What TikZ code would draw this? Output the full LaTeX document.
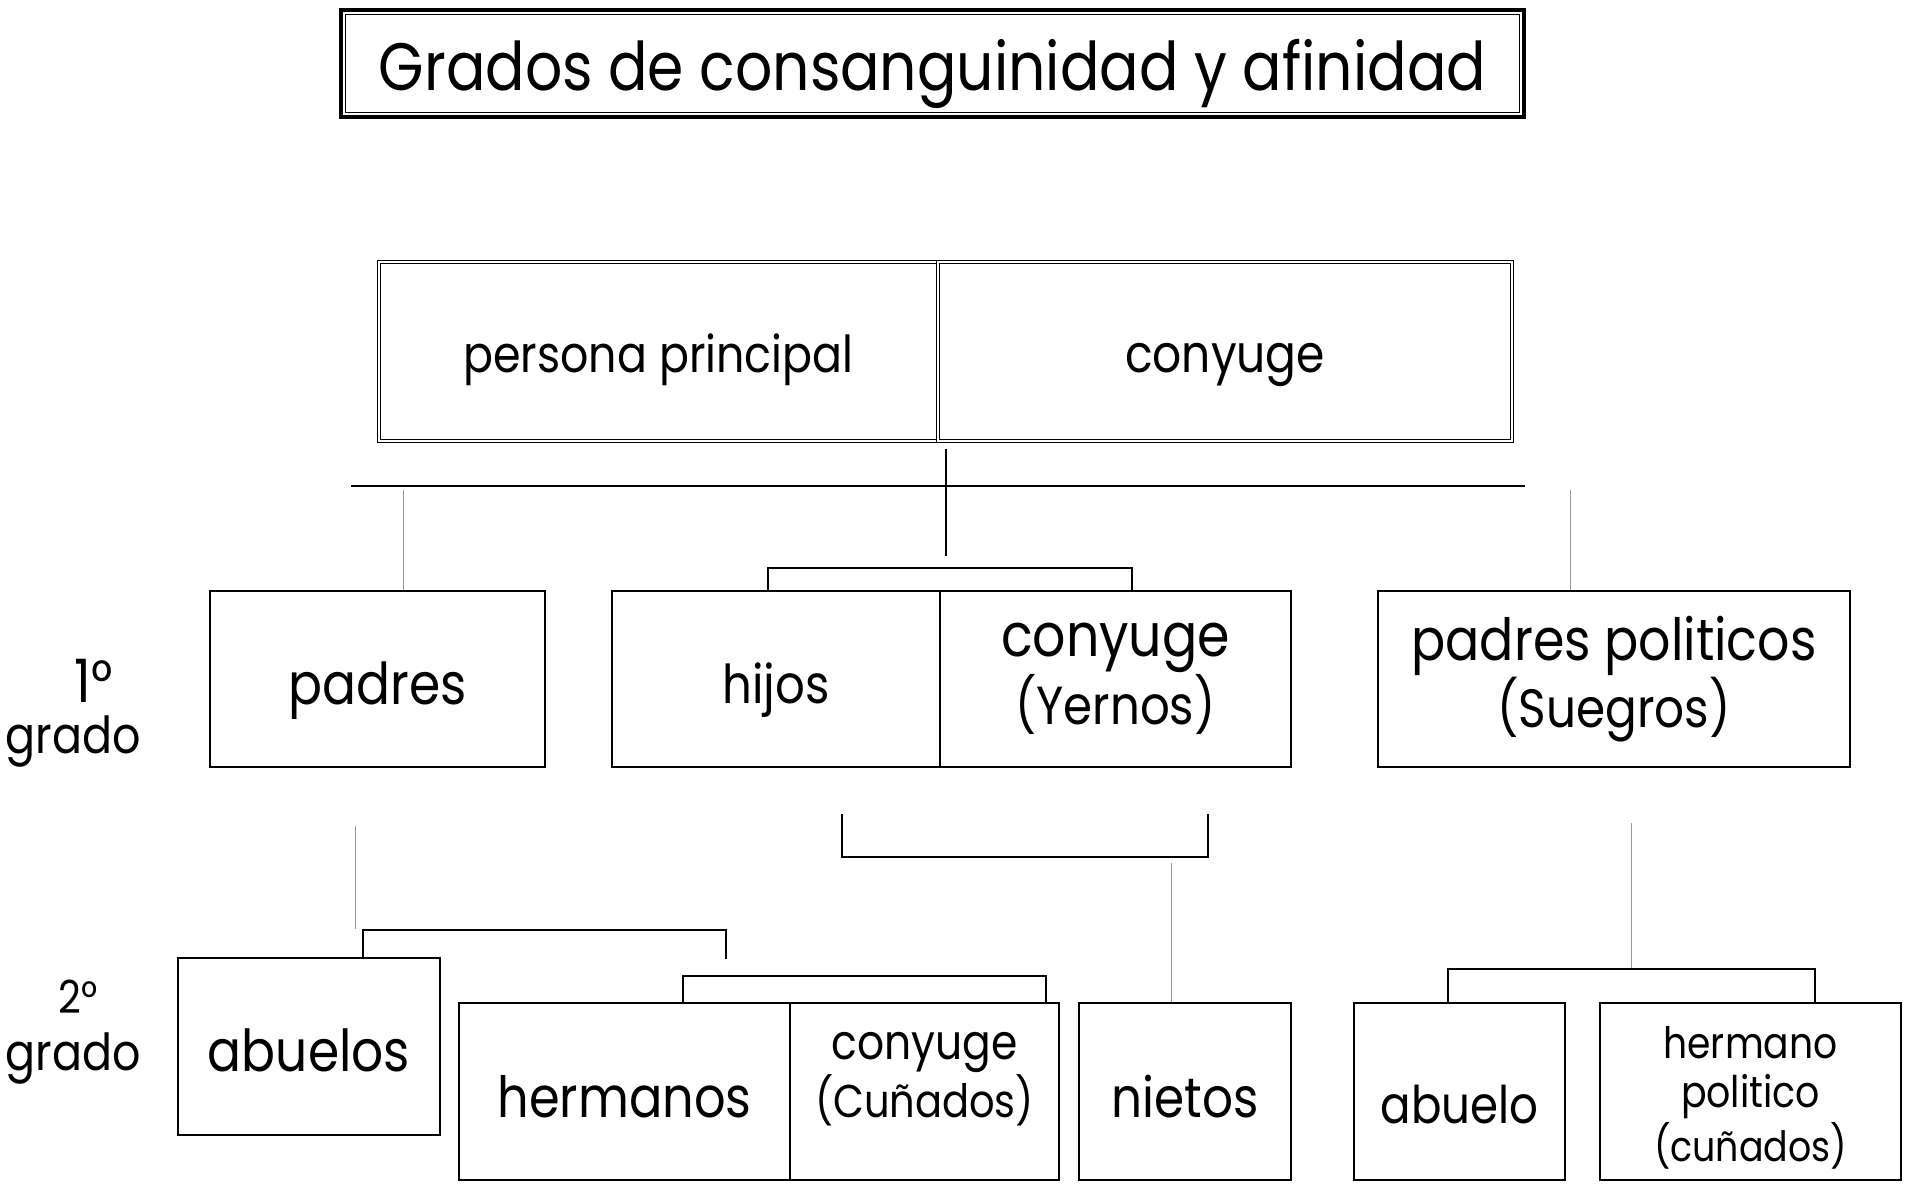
\documentclass[tikz,border=0pt]{standalone}
\usepackage{fontspec}
\setmainfont{Poppins}[FakeStretch=0.87]
\newcommand{\tw}[2]{\resizebox{\dimexpr #1pt/2\relax}{!}{#2}}
\newcommand{\sh}[2]{\raisebox{#1}[\height][\depth]{#2}}
\begin{document}
\begin{tikzpicture}[x=0.5pt,y=-0.5pt,
  box/.style={draw=black, line width=1.2pt, rectangle, inner sep=0pt, minimum height=176*0.5pt, align=center},
  dbox/.style={draw=black, double=white, double distance=1.1pt, line width=0.6pt, rectangle, inner sep=0pt, minimum height=179*0.5pt, align=center},
  conn/.style={draw=black, line width=1.1pt},
  glink/.style={draw=black!40, line width=0.5pt},
  lbl/.style={inner sep=0pt, anchor=center},
]
\useasboundingbox (0,0) rectangle (1911,1188);

% title
\node[draw=black, line width=1.6pt, minimum width=1183*0.5pt, minimum height=107*0.5pt, inner sep=0pt] (title) at (932.5,63.5)
  {\sh{-5pt}{\tw{1107}{Grados de consanguinidad y afinidad}}};
\draw[line width=0.6pt] ([shift={(6,6)}]title.north west) rectangle ([shift={(-6,-6)}]title.south east);

% couple
\node[dbox, minimum width=559*0.5pt] (pp) at (658.5,351.5) {\sh{-4.3pt}{\tw{390}{persona principal}}};
\node[dbox, minimum width=574*0.5pt] (cy) at (1225,351.5) {\sh{-6.5pt}{\tw{200}{conyuge}}};

% row 1
\node[box, minimum width=335*0.5pt] (padres) at (377.5,679) {\sh{-6pt}{\tw{178}{padres}}};
\node[box, minimum width=328*0.5pt] (hijos) at (776,679) {\sh{-5.5pt}{\tw{107}{hijos}}};
\node[box, minimum width=351*0.5pt, font=\fontsize{26}{32.5}\selectfont] (yernos) at (1115.5,679) {\tw{229}{conyuge}\\\tw{200}{(Yernos)}};
\node[box, minimum width=472*0.5pt, font=\fontsize{26}{32.5}\selectfont] (suegros) at (1614,679) {\tw{405}{padres politicos}\\\tw{233}{(Suegros)}};

% row 2
\node[box, minimum width=262*0.5pt, minimum height=177*0.5pt] (abuelos) at (309,1046.5) {\sh{-2pt}{\tw{202}{abuelos}}};
\node[box, minimum width=331*0.5pt, minimum height=177*0.5pt] (hermanos) at (624.5,1091.5) {\sh{-2.5pt}{\tw{254}{hermanos}}};
\node[box, minimum width=269*0.5pt, minimum height=177*0.5pt, font=\fontsize{20}{25.5}\selectfont] (cunados) at (924.5,1091.5)
  {\sh{6.7pt}{\begin{tabular}{@{}c@{}}\tw{186}{conyuge}\\\tw{219}{(Cuñados)}\end{tabular}}};
\node[box, minimum width=212*0.5pt, minimum height=177*0.5pt] (nietos) at (1185,1091.5) {\sh{-2.5pt}{\tw{147}{nietos}}};
\node[box, minimum width=211*0.5pt, minimum height=177*0.5pt] (abuelo) at (1459.5,1091.5) {\sh{-6.7pt}{\tw{158}{abuelo}}};
\node[box, minimum width=301*0.5pt, minimum height=177*0.5pt, font=\fontsize{18}{24.5}\selectfont] (hpol) at (1750.5,1091.5)
  {\sh{-4.3pt}{\begin{tabular}{@{}c@{}}\tw{174}{hermano}\\\tw{139}{politico}\\\tw{193}{(cuñados)}\end{tabular}}};

% degree labels
\node[lbl] (d1) at (94,681) {\tw{38}{1°}};
\node[lbl] (d1g) at (73,741) {\tw{135}{grado}};
\node[lbl] (d2) at (78,997) {\tw{39}{2°}};
\node[lbl] (d2g) at (73,1058) {\tw{135}{grado}};

% connectors
\coordinate (vtop) at (946,449);
\coordinate (vbot) at (946,556);
\draw[conn] (vtop) -- (vbot);
\coordinate (hl) at (351,486);
\coordinate (hr) at (1525,486);
\draw[conn] (hl) -- (hr);

\coordinate (b1l) at (768,568);
\coordinate (b1r) at (1132,568);
\draw[conn] (b1l |- hijos.north) -- (b1l) -- (b1r) -- (b1r |- yernos.north);

\coordinate (g1) at (403,490);
\draw[glink] (g1) -- (g1 |- padres.north);
\coordinate (g2) at (1570,490);
\draw[glink] (g2) -- (g2 |- suegros.north);

\coordinate (b2a) at (842,814);
\coordinate (b2b) at (842,857);
\coordinate (b2c) at (1208,857);
\coordinate (b2d) at (1208,814);
\draw[conn] (b2a) -- (b2b) -- (b2c) -- (b2d);
\coordinate (g3) at (1171,863);
\draw[glink] (g3) -- (g3 |- nietos.north);

\coordinate (g4a) at (355,826);
\coordinate (g4b) at (355,929);
\draw[glink] (g4a) -- (g4b);

\coordinate (b3l) at (363,930);
\coordinate (b3r) at (726,930);
\coordinate (b3e) at (726,959);
\draw[conn] (b3l |- abuelos.north) -- (b3l) -- (b3r) -- (b3e);

\coordinate (b4l) at (683,976);
\coordinate (b4r) at (1046,976);
\draw[conn] (b4l |- hermanos.north) -- (b4l) -- (b4r) -- (b4r |- cunados.north);

\coordinate (b5l) at (1448,969);
\coordinate (b5r) at (1815,969);
\coordinate (g5) at (1631,823);
\draw[glink] (g5) -- (g5 |- b5l);
\draw[conn] (b5l |- abuelo.north) -- (b5l) -- (b5r) -- (b5r |- hpol.north);
\end{tikzpicture}
\end{document}
